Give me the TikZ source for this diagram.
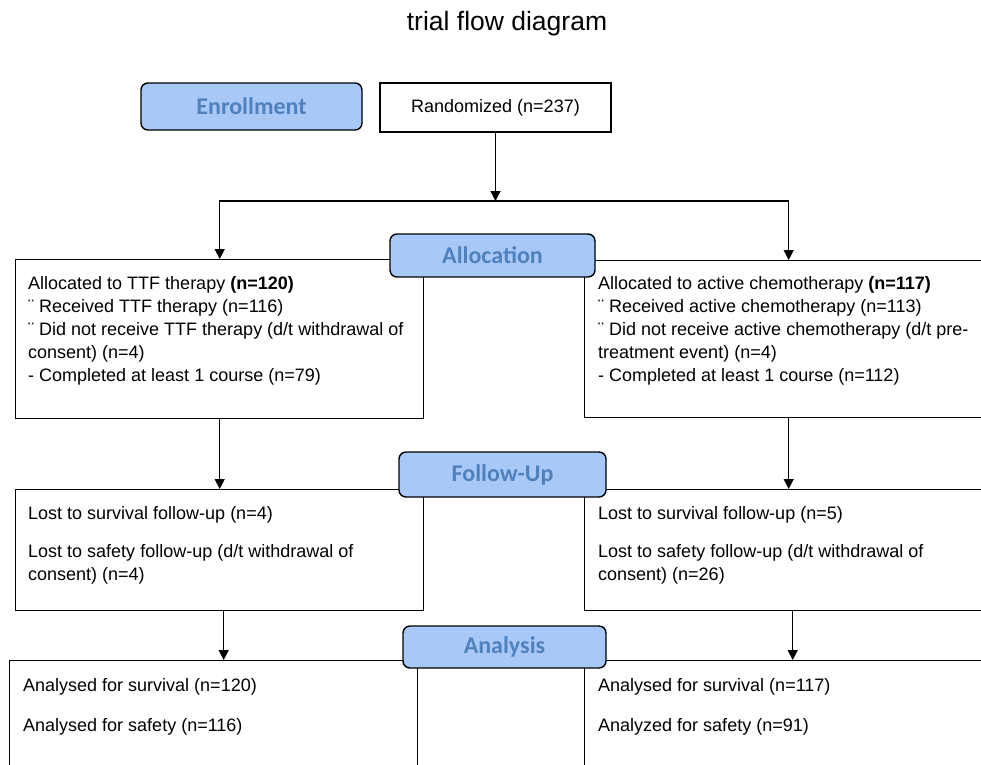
\documentclass[tikz,border=0pt]{standalone}
\usepackage{fontspec}
\setmainfont{Liberation Sans}
\newfontfamily\phasefont{Carlito}
\usetikzlibrary{arrows.meta,positioning}
\definecolor{phasefill}{RGB}{168,200,248}
\definecolor{phasetext}{RGB}{79,129,189}
\tikzset{
  box/.style={draw, line width=1.4pt, rectangle, anchor=north west, inner sep=0pt},
  phase/.style={draw, line width=1.4pt, fill=phasefill, rounded corners=7pt,
    text=phasetext, font=\phasefont\bfseries\fontsize{24}{28}\selectfont},
  txt/.style={anchor=north west, inner sep=0pt, align=left,
    font=\fontsize{18}{23}\selectfont},
  arr/.style={line width=1.3pt, -{Triangle[length=10pt,width=10pt]}}
}
\begin{document}
\begin{tikzpicture}[x=1pt,y=-1pt]
            \useasboundingbox (0,0) rectangle (981,764);
            \clip (0,0) rectangle (981,764);
            % Title
            \node [anchor=base, font=\fontsize{26.5}{30}\selectfont] (title) at (507,30) {trial flow diagram};

            % Randomized box
            \node [draw, line width=1.4pt, minimum width=231pt, minimum height=49pt,
              font=\fontsize{18}{23}\selectfont] (rand) at (495.5,107.5) {Randomized (n=237)};

            % The boxes of both arms, they run off the page on the right and bottom
            \node [box, minimum width=408pt, minimum height=159pt] (ttf) at (15,259) {};
            \node [box, minimum width=408pt, minimum height=157pt] (chemo) at (584,260) {};
            \node [box, minimum width=408pt, minimum height=121pt] (fuL) at (15,489) {};
            \node [box, minimum width=408pt, minimum height=121pt] (fuR) at (584,489) {};
            \node [box, minimum width=408pt, minimum height=200pt] (anL) at (9,660) {};
            \node [box, minimum width=408pt, minimum height=200pt] (anR) at (584,660) {};

            % Texts in the boxes
            \node [txt] (ttftxt) at (28,276) {Allocated to TTF therapy \textbf{(n=120)}\\
              ¨ Received TTF therapy (n=116)\\
              ¨ Did not receive TTF therapy (d/t withdrawal of\\
              consent) (n=4)\\
              - Completed at least 1 course (n=79)};
            \node [txt] (chemotxt) at (598,276) {Allocated to active chemotherapy \textbf{(n=117)}\\
              ¨ Received active chemotherapy (n=113)\\
              ¨ Did not receive active chemotherapy (d/t pre-\\
              treatment event) (n=4)\\
              - Completed at least 1 course (n=112)};
            \node [txt] (fuLtxt) at (28,506) {Lost to survival follow-up (n=4)\\[15pt]
              Lost to safety follow-up (d/t withdrawal of\\
              consent) (n=4)};
            \node [txt] (fuRtxt) at (598,506) {Lost to survival follow-up (n=5)\\[15pt]
              Lost to safety follow-up (d/t withdrawal of\\
              consent) (n=26)};
            \node [txt] (anLtxt) at (23,678) {Analysed for survival (n=120)\\[17pt]
              Analysed for safety (n=116)};
            \node [txt] (anRtxt) at (598,678) {Analysed for survival (n=117)\\[17pt]
              Analyzed for safety (n=91)};

            % Connectors
            \coordinate (split) at (495.5,201);
            \draw [arr] (rand) -- (split);
            \draw [arr] (split) -| (ttf.north);
            \draw [arr] (split) -| (chemo.north);
            \draw [arr] (ttf.south) -- (ttf.south |- fuL.north);
            \draw [arr] (chemo.south) -- (chemo.south |- fuR.north);
            \draw [arr] ([xshift=4pt]fuL.south) -- ([xshift=4pt]fuL.south |- anL.north);
            \draw [arr] ([xshift=4pt]fuR.south) -- ([xshift=4pt]fuR.south |- anR.north);

            % Phase labels on top of the lines
            \foreach \nm/\x/\y/\w/\h/\lab in {
              enrol/251.5/106.5/221/47/Enrollment,
              alloc/492.5/255.5/205/43/Allocation,
              follow/502.5/474.5/207/45/Follow-Up,
              analysis/504.5/647/203/42/Analysis} {
              \node [phase, minimum width=\w pt, minimum height=\h pt] (\nm) at (\x,\y) {\lab};
            }
        \end{tikzpicture}
\end{document}
